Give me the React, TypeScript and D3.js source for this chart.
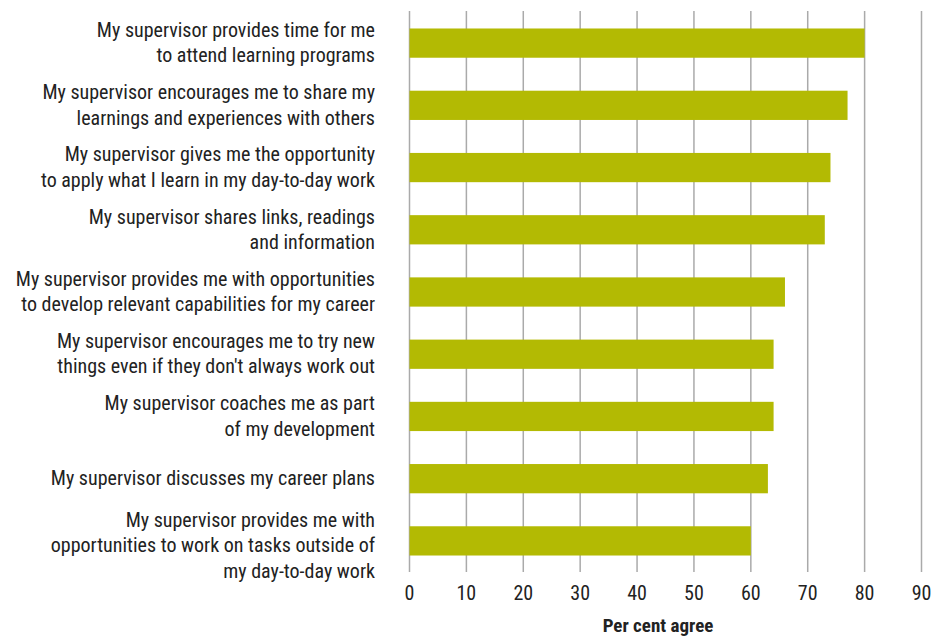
import React from 'react';
import * as d3 from 'd3';

const categories: string[][] = [
  ['My supervisor provides time for me', 'to attend learning programs'],
  ['My supervisor encourages me to share my', 'learnings and experiences with others'],
  ['My supervisor gives me the opportunity', 'to apply what I learn in my day-to-day work'],
  ['My supervisor shares links, readings', 'and information'],
  ['My supervisor provides me with opportunities', 'to develop relevant capabilities for my career'],
  ['My supervisor encourages me to try new', "things even if they don't always work out"],
  ['My supervisor coaches me as part', 'of my development'],
  ['My supervisor discusses my career plans'],
  ['My supervisor provides me with', 'opportunities to work on tasks outside of', 'my day-to-day work'],
];
const values: number[] = [80, 77, 74, 73, 66, 64, 64, 63, 60];
const ticks: number[] = [0, 10, 20, 30, 40, 50, 60, 70, 80, 90];
const axisTitle = 'Per cent agree';

const W = 936;
const H = 639;
const FONT = "'Liberation Sans Narrow', 'Roboto Condensed', 'DejaVu Sans Condensed', sans-serif";

export default function App() {
  const svgRef = React.useRef<SVGSVGElement>(null);

  React.useEffect(() => {
    const svg = d3.select(svgRef.current);
    svg.selectAll('*').remove();

    const x = d3.scaleLinear().domain([0, 90]).range([409.5, 921.5]);
    const y = d3
      .scaleBand<number>()
      .domain(d3.range(values.length))
      .range([12, 572])
      .paddingInner(0.53)
      .paddingOuter(0.265);

    // grid lines
    svg
      .append('g')
      .selectAll('line')
      .data(ticks)
      .join('line')
      .attr('x1', d => x(d))
      .attr('x2', d => x(d))
      .attr('y1', 11)
      .attr('y2', 572)
      .attr('stroke', '#aaaaaa')
      .attr('stroke-width', 1.5);

    // bars
    svg
      .append('g')
      .selectAll('rect')
      .data(values)
      .join('rect')
      .attr('x', x(0))
      .attr('y', (_, i) => y(i) as number)
      .attr('width', d => x(d) - x(0))
      .attr('height', y.bandwidth())
      .attr('fill', '#b3ba03');

    // tick labels
    svg
      .append('g')
      .selectAll('text')
      .data(ticks)
      .join('text')
      .attr('x', d => x(d))
      .attr('y', 600)
      .attr('text-anchor', 'middle')
      .attr('font-family', FONT)
      .attr('font-size', 20)
      .attr('fill', '#222')
      .text(d => d);

    // category labels
    const lineH = 25.5;
    const labels = svg
      .append('g')
      .selectAll('text')
      .data(categories)
      .join('text')
      .attr('text-anchor', 'end')
      .attr('font-family', FONT)
      .attr('font-size', 20)
      .attr('fill', '#222');
    labels.each(function (lines, i) {
      const cy = (y(i) as number) + y.bandwidth() / 2;
      const top = cy - ((lines.length - 1) * lineH) / 2 + (lines.length > 2 ? 5 : 0);
      d3.select(this)
        .selectAll('tspan')
        .data(lines)
        .join('tspan')
        .attr('x', 375)
        .attr('y', (_, j) => top + j * lineH + 6.5)
        .text(l => l);
    });

    // axis title
    svg
      .append('text')
      .attr('x', 658)
      .attr('y', 632)
      .attr('text-anchor', 'middle')
      .attr('font-family', FONT)
      .attr('font-size', 19)
      .attr('font-weight', 'bold')
      .attr('fill', '#222')
      .text(axisTitle);
  }, []);

  return (
    <svg
      ref={svgRef}
      width={W}
      height={H}
      style={{ position: 'absolute', left: 0, top: 0, background: '#fff' }}
    />
  );
}
